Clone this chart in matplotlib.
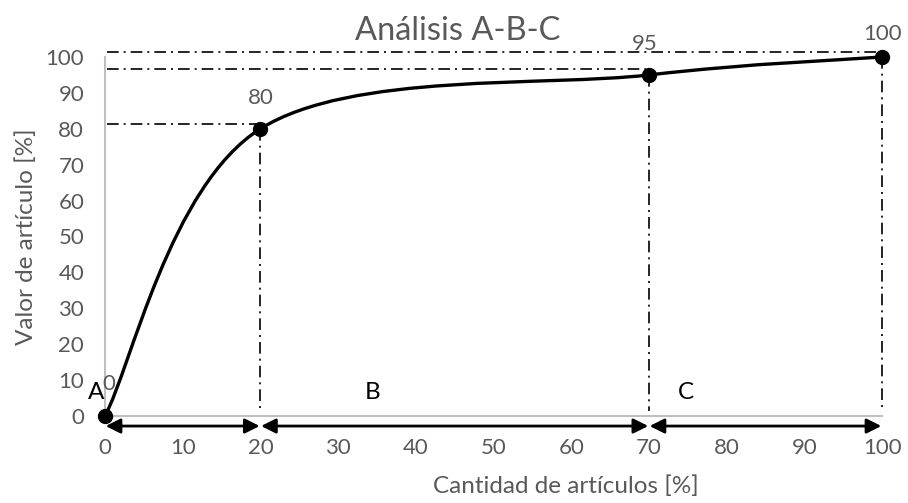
import numpy as np
import matplotlib
matplotlib.use("Agg")
import matplotlib.pyplot as plt
from matplotlib.path import Path
from matplotlib.patches import PathPatch

plt.rcParams['font.family'] = ['Lato', 'DejaVu Sans']

# data
cantidad = [0, 20, 70, 100]
valor = [0, 80, 95, 100]
etiquetas = ['0', '80', '95', '100']
# horizontal guide lines as drawn in the original (slightly off the points)
guias_y = [81.3, 96.6, 101.4]
guias_x_fin = [20, 70, 100]
zonas = [(0, 20), (20, 70), (70, 100)]
zonas_txt = ['A', 'B', 'C']
zonas_txt_x = [-1.2, 34.5, 74.8]
xticks = list(range(0, 101, 10))
yticks = list(range(0, 101, 10))

GRIS = '#595959'

fig = plt.figure(figsize=(9.08, 5.03), dpi=100)
ax = fig.add_axes([0.1156, 0.173, 0.8558, 0.7137])

# smoothed line (excel-like bezier through the points)
pts = np.column_stack([cantidad, valor]).astype(float)
n = len(pts)
verts = [pts[0]]
codes = [Path.MOVETO]
for i in range(n - 1):
    p_prev = pts[i - 1] if i > 0 else pts[i]
    p_next2 = pts[i + 2] if i + 2 < n else pts[i + 1]
    c1 = pts[i] + (pts[i + 1] - p_prev) / 6.0
    c2 = pts[i + 1] - (p_next2 - pts[i]) / 6.0
    verts += [c1, c2, pts[i + 1]]
    codes += [Path.CURVE4] * 3
ax.add_patch(PathPatch(Path(verts, codes), facecolor='none', edgecolor='black', lw=2.4,
                       clip_on=False, zorder=3))
ax.plot(cantidad, valor, 'o', color='black', markersize=10, clip_on=False, zorder=4)

# data labels
offs = [(0.5, 9), (20, 88.5), (69.5, 103.5), (100, 106.5)]
for (x, y), t in zip(offs, etiquetas):
    ax.text(x, y, t, ha='center', va='center', fontsize=16, color=GRIS, clip_on=False)

# dash-dot guide lines
dd = (0, (7, 3, 1.2, 3))
for y, xe in zip(guias_y, guias_x_fin):
    ax.plot([0.3, xe], [y, y], color='black', lw=1.2, linestyle=dd, clip_on=False)
for x, y in zip(cantidad[1:], valor[1:]):
    ax.plot([x, x], [y, 1.5], color='black', lw=1.2, linestyle=dd, clip_on=False)

# zone arrows below the axis
for (a, b) in zonas:
    ax.annotate('', xy=(b, -2.8), xytext=(a, -2.8), annotation_clip=False,
                arrowprops=dict(arrowstyle='<|-|>', color='black', lw=2,
                                mutation_scale=22, shrinkA=0.5, shrinkB=0.5))
for x, t in zip(zonas_txt_x, zonas_txt):
    ax.text(x, 6.5, t, ha='center', va='center', fontsize=17.5, color='black')

ax.set_xlim(0, 100)
ax.set_ylim(0, 100)
ax.set_xticks(xticks)
ax.set_yticks(yticks)
ax.tick_params(length=0, labelsize=16, labelcolor=GRIS)
ax.tick_params(axis='x', pad=16)
ax.tick_params(axis='y', pad=15)
for s in ['top', 'right']:
    ax.spines[s].set_visible(False)
for s in ['left', 'bottom']:
    ax.spines[s].set_color('#BFBFBF')
    ax.spines[s].set_linewidth(1.5)

ax.set_xlabel('Cantidad de artículos [%]', fontsize=17.5, color=GRIS)
ax.xaxis.set_label_coords(0.593, -0.165)
ax.set_ylabel('Valor de artículo [%]', fontsize=17.5, color=GRIS)
ax.yaxis.set_label_coords(-0.088, 0.5)
ax.set_title('Análisis A-B-C', fontsize=23.5, color=GRIS, x=0.454, pad=12)

fig.savefig('out.png', dpi=100)
